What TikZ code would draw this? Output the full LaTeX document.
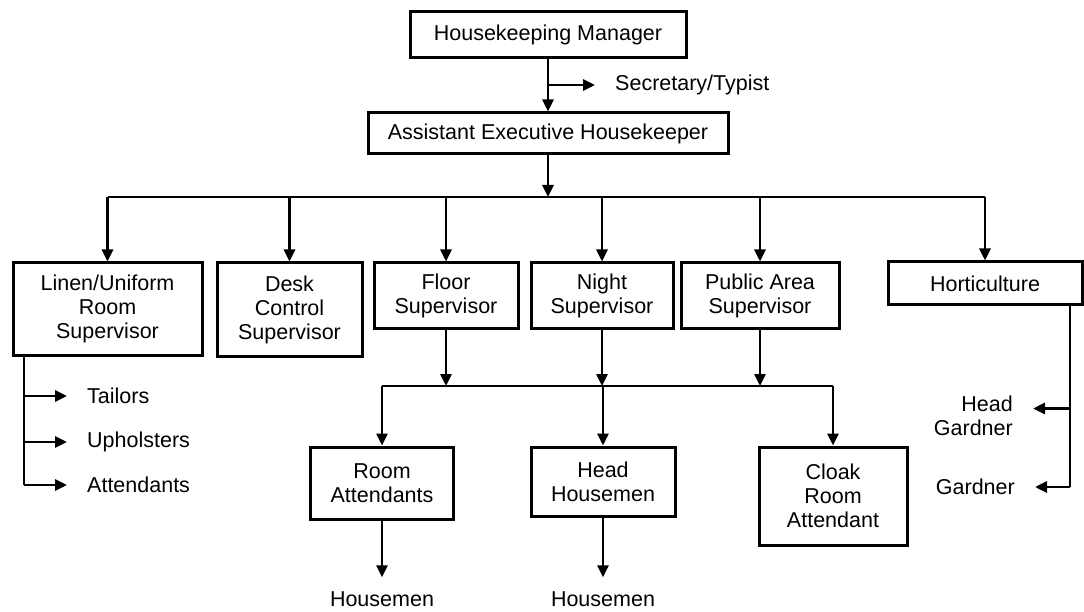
\documentclass[tikz,border=0pt]{standalone}
\usepackage{fontspec}
\usetikzlibrary{arrows.meta}
\newfontfamily\chartfont{Liberation Sans}
\begin{document}
\begin{tikzpicture}[x=1pt, y=-1pt,
  every node/.style={font=\chartfont\fontsize{21.5}{24}\selectfont, text=black},
  post/.style={draw, line width=3pt, align=center, inner sep=0pt},
  leaf/.style={inner xsep=20pt, inner ysep=2pt},
  lowleaf/.style={inner xsep=2pt, inner ysep=14pt},
  link/.style={line width=2.8pt},
  arr/.style={link, -{Triangle[length=12pt,width=11pt]}}]
\useasboundingbox (0,0) rectangle (1084,612);

% top of the chain
\node[post, minimum width=276pt, minimum height=46pt] (hm) at (548,35) {Housekeeping Manager};
\node[post, minimum width=360pt, minimum height=41pt] (aeh) at (548,133.5) {Assistant Executive Housekeeper};
\node[leaf, anchor=west] (sec) at (595,85) {Secretary/Typist};

% supervisors
\node[post, minimum width=189pt, minimum height=92pt] (linen) at (107.5,309) {Linen/Uniform\\Room\\Supervisor};
\node[post, minimum width=145pt, minimum height=93pt] (desk) at (289.5,309.5) {Desk\\Control\\Supervisor};
\node[post, minimum width=144pt, minimum height=65pt] (floor) at (446,295.5) {Floor\\Supervisor};
\node[post, minimum width=142pt, minimum height=65pt] (night) at (602,295.5) {Night\\Supervisor};
\node[post, minimum width=158pt, minimum height=65pt] (public) at (760,295.5) {Public Area\\Supervisor};
\node[post, minimum width=194pt, minimum height=43pt] (hort) at (985,283.5) {Horticulture};

% staff under the floor, night and public area supervisors
\node[post, minimum width=143pt, minimum height=72pt] (room) at (382,483) {Room\\Attendants};
\node[post, minimum width=144pt, minimum height=69pt] (headh) at (603,481.5) {Head\\Housemen};
\node[post, minimum width=148pt, minimum height=98pt] (cloak) at (833,496) {Cloak\\Room\\Attendant};
\node[lowleaf] (hsa) at (382,599) {Housemen};
\node[lowleaf] (hsb) at (603,599) {Housemen};

% linen room staff
\node[leaf, anchor=west] (tail) at (67,396) {Tailors};
\node[leaf, anchor=west] (uph) at (67,442) {Upholsters};
\node[leaf, anchor=west] (att) at (67,485) {Attendants};

% gardens
\node[leaf, anchor=east, align=right] (hg) at (1033,415.5) {Head\\Gardner};
\node[leaf, anchor=east] (gard) at (1035,487) {Gardner};

% bus lines
\coordinate (bus) at (548,197);
\coordinate (lbus) at (603,386);
\coordinate (lv) at (24,0);
\coordinate (hv) at (1070,0);

% connectors
\draw[arr] (hm.south) -- (aeh.north);
\draw[arr] (hm.south |- sec.west) -- (sec.west);
\draw[arr] (aeh.south) -- (bus);
\draw[link] (linen.north |- bus) -- (hort.north |- bus);
\foreach \n in {linen,desk,floor,night,public,hort}
  \draw[arr] (\n.north |- bus) -- (\n.north);

\foreach \n in {floor,night,public}
  \draw[arr] (\n.south) -- (\n.south |- lbus);
\draw[link] (room.north |- lbus) -- (cloak.north |- lbus);
\foreach \n in {room,headh,cloak}
  \draw[arr] (\n.north |- lbus) -- (\n.north);
\draw[arr] (room.south) -- (hsa.north);
\draw[arr] (headh.south) -- (hsb.north);

\draw[link] (lv |- linen.south) -- (lv |- att.west);
\foreach \n in {tail,uph,att}
  \draw[arr] (lv |- \n.west) -- (\n.west);

\draw[link] (hv |- hort.south) -- (hv |- gard.east);
\draw[arr] (hv |- hg.east) ++(0,-7) -- ([yshift=7pt]hg.east);
\draw[arr] (hv |- gard.east) -- (gard.east);
\end{tikzpicture}
\end{document}
